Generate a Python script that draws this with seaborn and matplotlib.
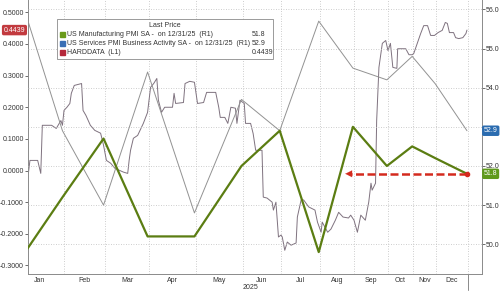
import numpy as np
import pandas as pd
import matplotlib
matplotlib.use("Agg")
import matplotlib.pyplot as plt
import matplotlib.transforms as mtrans
from matplotlib.lines import Line2D
import seaborn as sns

# ---------------- data ----------------
pmi_dates = ["2024-12-31", "2025-01-31", "2025-02-28", "2025-03-31", "2025-04-30",
             "2025-05-31", "2025-06-30", "2025-07-31", "2025-08-31", "2025-09-30",
             "2025-10-31", "2025-11-30", "2025-12-31"]
mfg_pmi = [49.4, 51.2, 52.7, 50.2, 50.2, 52.0, 52.9, 49.8, 53.0, 52.0, 52.5, 52.2, 51.8]
svc_pmi = [56.8, 52.9, 51.0, 54.4, 50.8, 53.7, 52.9, 55.7, 54.5, 54.2, 54.8, 54.1, 52.9]

hard_dates = [
    "2025-01-09", "2025-01-10", "2025-01-15", "2025-01-17", "2025-01-18", "2025-01-24",
    "2025-01-27", "2025-01-30", "2025-01-31",
    "2025-02-01", "2025-02-03", "2025-02-05", "2025-02-06", "2025-02-08", "2025-02-13",
    "2025-02-14", "2025-02-16", "2025-02-19", "2025-02-22", "2025-02-26", "2025-02-28",
    "2025-03-02", "2025-03-05", "2025-03-08", "2025-03-14", "2025-03-17", "2025-03-18",
    "2025-03-19", "2025-03-21", "2025-03-24", "2025-03-28", "2025-03-31",
    "2025-04-02", "2025-04-04", "2025-04-06", "2025-04-07", "2025-04-09", "2025-04-11",
    "2025-04-16", "2025-04-17", "2025-04-18", "2025-04-23", "2025-04-24", "2025-04-27",
    "2025-04-30",
    "2025-05-02", "2025-05-06", "2025-05-08", "2025-05-14", "2025-05-16", "2025-05-17",
    "2025-05-20", "2025-05-22", "2025-05-24", "2025-05-27", "2025-05-28", "2025-05-30",
    "2025-06-02", "2025-06-03", "2025-06-07", "2025-06-09", "2025-06-11", "2025-06-16",
    "2025-06-17", "2025-06-20", "2025-06-24", "2025-06-25", "2025-06-27", "2025-06-29",
    "2025-07-01", "2025-07-02", "2025-07-04", "2025-07-06", "2025-07-09", "2025-07-13",
    "2025-07-14", "2025-07-17", "2025-07-19", "2025-07-23", "2025-07-28", "2025-07-30",
    "2025-08-02", "2025-08-03", "2025-08-08", "2025-08-11", "2025-08-15", "2025-08-18",
    "2025-08-22", "2025-08-27", "2025-08-29",
    "2025-09-01", "2025-09-04", "2025-09-07", "2025-09-11", "2025-09-14", "2025-09-16",
    "2025-09-17", "2025-09-20", "2025-09-21", "2025-09-23", "2025-09-26", "2025-09-29",
    "2025-10-01", "2025-10-04", "2025-10-07", "2025-10-12", "2025-10-13", "2025-10-23",
    "2025-10-27", "2025-10-31",
    "2025-11-02", "2025-11-07", "2025-11-11", "2025-11-15", "2025-11-20", "2025-11-24",
    "2025-11-29",
    "2025-12-03", "2025-12-07", "2025-12-10", "2025-12-12", "2025-12-14", "2025-12-18",
    "2025-12-20", "2025-12-23", "2025-12-27", "2025-12-30", "2025-12-31"]
hard_vals = [
    -0.009, 0.032, 0.032, -0.009, 0.143, 0.143,
    0.133, 0.158, 0.143,
    0.190, 0.200, 0.212, 0.244, 0.269, 0.275,
    0.190, 0.174, 0.143, 0.127, 0.118, 0.080,
    0.032, 0.023, 0.007, -0.005, -0.009, 0.032,
    0.064, 0.102, 0.111, 0.149, 0.184,
    0.263, 0.275, 0.291, 0.222, 0.184, 0.200,
    0.200, 0.244, 0.212, 0.215, 0.275, 0.282,
    0.279,
    0.212, 0.215, 0.247, 0.247, 0.200, 0.168,
    0.168, 0.149, 0.200, 0.197, 0.149, 0.222,
    0.212, 0.149, 0.149, 0.117, 0.064, 0.064,
    -0.084, -0.087, -0.100, -0.125, -0.100, -0.210,
    -0.204, -0.210, -0.252, -0.226, -0.236, -0.229,
    -0.147, -0.093, -0.093, -0.115, -0.125, -0.163,
    -0.195, -0.163, -0.195, -0.185, -0.157, -0.132,
    -0.147, -0.150, -0.141,
    -0.157, -0.195, -0.141, -0.157, -0.100, -0.040,
    -0.062, -0.040, 0.158, 0.326, 0.402, 0.411,
    0.379, 0.402, 0.326, 0.323, 0.385, 0.385,
    0.366, 0.366,
    0.370, 0.405, 0.433, 0.458, 0.458, 0.427,
    0.427,
    0.436, 0.443, 0.468, 0.465, 0.436, 0.436,
    0.420, 0.417, 0.420, 0.433, 0.4439]

month_labels = ["Jan", "Feb", "Mar", "Apr", "May", "Jun",
                "Jul", "Aug", "Sep", "Oct", "Nov", "Dec"]
year_label = "2025"
legend_title = "Last Price"
series_names = ["US Manufacturing PMI SA -  on 12/31/25  (R1)",
                "US Services PMI Business Activity SA -  on 12/31/25  (R1)",
                "HARDDATA  (L1)"]
arrow_to_date = "2025-08-24"

# ---------------- helpers ----------------
BASE = pd.Timestamp("2025-01-01")


def to_days(d):
    return (pd.to_datetime(pd.Series(d)) - BASE).dt.days.astype(float).to_numpy()


pmi_x = to_days(pmi_dates)
hard_x = to_days(hard_dates)

df_pmi = pd.DataFrame({"x": pmi_x, "mfg": mfg_pmi, "svc": svc_pmi})
df_hard = pd.DataFrame({"x": hard_x, "v": hard_vals})

# Bloomberg-style uneven month spacing (axis scale definition)
edge_dates = pd.date_range("2024-12-01", "2026-02-01", freq="MS")
edge_days = ((edge_dates - BASE).days).astype(float).to_numpy()
edge_pos = np.array([-32, 16, 64, 105, 149, 196, 243, 281, 320, 354, 388, 413, 436, 468, 500],
                    dtype=float)


def fwd(x):
    return np.interp(x, edge_days, edge_pos)


def inv(p):
    return np.interp(p, edge_pos, edge_days)


# ---------------- style ----------------
sns.set_style("white")
plt.rcParams["font.family"] = ["Liberation Sans", "DejaVu Sans"]
plt.rcParams["font.size"] = 5

GREEN = "#5b7d12"
GRAY = "#929292"
HARD = "#7f727f"
RED = "#d42a1e"
BLUE = "#2b6cb0"
TXT = "#333333"
GRID = "#bdbdbd"

fig = plt.figure(figsize=(5.0, 2.91), dpi=100)
ax = fig.add_axes([28 / 500, 1 - 274 / 291, 454 / 500, 274 / 291])
ax.set_xscale("function", functions=(fwd, inv))
ax2 = ax.twinx()

# ---------------- lines ----------------
sns.lineplot(data=df_hard, x="x", y="v", ax=ax, color=HARD, linewidth=0.7,
             estimator=None, sort=False, legend=False)
sns.lineplot(data=df_pmi, x="x", y="svc", ax=ax2, color=GRAY, linewidth=0.7,
             estimator=None, sort=False, legend=False)
sns.lineplot(data=df_pmi, x="x", y="mfg", ax=ax2, color=GREEN, linewidth=1.6,
             estimator=None, sort=False, legend=False)

# ---------------- axes ----------------
xmin, xmax = inv(28), inv(482)
ax.set_xlim(xmin, xmax)
ax.set_ylim(-0.327, 0.539)
ax2.set_ylim(49.24, 56.24)
ax.set_xlabel("")
ax.set_ylabel("")
ax2.set_xlabel("")
ax2.set_ylabel("")

major = edge_days[2:14]
ax.set_xticks(major)
ax.set_xticklabels([""] * len(major))
mids = (edge_days[1:13] + edge_days[2:14]) / 2
ax.set_xticks(mids, minor=True)
ax.set_xticklabels(month_labels, minor=True)
ax.tick_params(axis="x", which="major", length=3, width=0.6, color="#777777", direction="out")
ax.tick_params(axis="x", which="minor", length=0, pad=2.5, labelcolor=TXT, labelsize=5)

lticks = np.round(np.arange(-0.3, 0.51, 0.1), 1)
ax.set_yticks(lticks)
ax.set_yticklabels([f"{t:.4f}" for t in lticks])
ax.tick_params(axis="y", length=2, width=0.6, color="#555555", pad=1,
               labelcolor=TXT, labelsize=5)

rticks = np.arange(50, 56.1, 1.0)
ax2.set_yticks(rticks)
# the 53.0 label sits under the last-value box of the services series
ax2.set_yticklabels(["" if abs(t - 53.0) < 1e-9 else f"{t:.1f}" for t in rticks])
ax2.tick_params(axis="y", length=2, width=0.6, color="#555555", pad=1,
                labelcolor=TXT, labelsize=5)

# grid: vertical at month edges, horizontal from right axis
for xe in major:
    ax.axvline(xe, color=GRID, lw=0.6, ls=(0, (1, 2)), zorder=0)
for yt in rticks:
    ax2.axhline(yt, color=GRID, lw=0.6, ls=(0, (1, 2)), zorder=0)

for s in ["top", "right"]:
    ax.spines[s].set_visible(False)
for s in ["top", "left", "bottom"]:
    ax2.spines[s].set_visible(False)
for a, s in [(ax, "left"), (ax, "bottom"), (ax2, "right")]:
    a.spines[s].set_color("#8a8a8a")
    a.spines[s].set_linewidth(0.7)

# year separator and year label
ax.axvline(edge_days[13], ymin=-0.06, ymax=0, color="#8a8a8a", lw=0.7, clip_on=False)
ax.text((250 - 28) / 454, -0.048, year_label, transform=ax.transAxes,
        ha="center", va="center", fontsize=5, color=TXT)

# ---------------- last-value boxes ----------------
tr_l = mtrans.blended_transform_factory(ax.transAxes, ax.transData)
tr_r = mtrans.blended_transform_factory(ax2.transAxes, ax2.transData)
ax.text(-0.006, hard_vals[-1], f"{hard_vals[-1]:.4f}", transform=tr_l, ha="right",
        va="center", color="white", fontsize=5, clip_on=False,
        bbox=dict(boxstyle="round,pad=0.25", fc="#c23a3f", ec="none"))
ax2.text(1.004, svc_pmi[-1], f"{svc_pmi[-1]:.1f}", transform=tr_r, ha="left",
         va="center", color="white", fontsize=5, clip_on=False, zorder=8,
         bbox=dict(boxstyle="round,pad=0.25", fc=BLUE, ec="none"))
ax2.text(1.004, mfg_pmi[-1], f"{mfg_pmi[-1]:.1f}", transform=tr_r, ha="left",
         va="center", color="white", fontsize=5, clip_on=False, zorder=8,
         bbox=dict(boxstyle="round,pad=0.25", fc="#5f9a1c", ec="none"))

# ---------------- red dashed arrow ----------------
x_from = pmi_x[-1]
x_to = to_days([arrow_to_date])[0]
y_arrow = mfg_pmi[-1]
ax2.plot([x_from, x_to + 3], [y_arrow, y_arrow], color=RED, lw=1.8,
         ls=(0, (3.2, 1.4)), zorder=6, solid_capstyle="butt")
ax2.plot([x_from], [y_arrow], marker="o", ms=3, color=RED, zorder=6)
ax2.annotate("", xy=(x_to, y_arrow), xytext=(x_to + 7, y_arrow),
             arrowprops=dict(arrowstyle="-|>", color=RED, lw=0.1,
                             mutation_scale=12, shrinkA=0, shrinkB=0), zorder=7)

# ---------------- legend ----------------
handles = [Line2D([], [], marker="s", ls="none", ms=3.6, mfc=c, mec=c)
           for c in ["#6a9a1a", "#3a6fb5", "#b5283b"]]
leg = ax2.legend(handles, series_names, title=legend_title, loc="upper left",
                 bbox_to_anchor=(29 / 454, 1 - 19 / 274 - 0.01, 216 / 454, 0.01),
                 mode="expand", frameon=True, fancybox=False, framealpha=1,
                 edgecolor="#8a8a8a", fontsize=5, title_fontsize=5,
                 handlelength=0.7, handletextpad=0.4, labelspacing=0.32,
                 borderpad=0.4, borderaxespad=0)
leg.get_frame().set_linewidth(0.6)
leg.get_title().set_color(TXT)
for t in leg.get_texts():
    t.set_color(TXT)
leg.set_zorder(10)

fig.canvas.draw()
vals = [f"{mfg_pmi[-1]:.1f}", f"{svc_pmi[-1]:.1f}", f"{hard_vals[-1]:.4f}"]
for t, v in zip(leg.get_texts(), vals):
    bb = t.get_window_extent()
    yc = (bb.y0 + bb.y1) / 2
    xf = 252 / 500
    fig.text(xf, yc / fig.bbox.height, v, ha="left", va="center", fontsize=5,
             color=TXT, zorder=11)

fig.savefig("out.png", dpi=100)
